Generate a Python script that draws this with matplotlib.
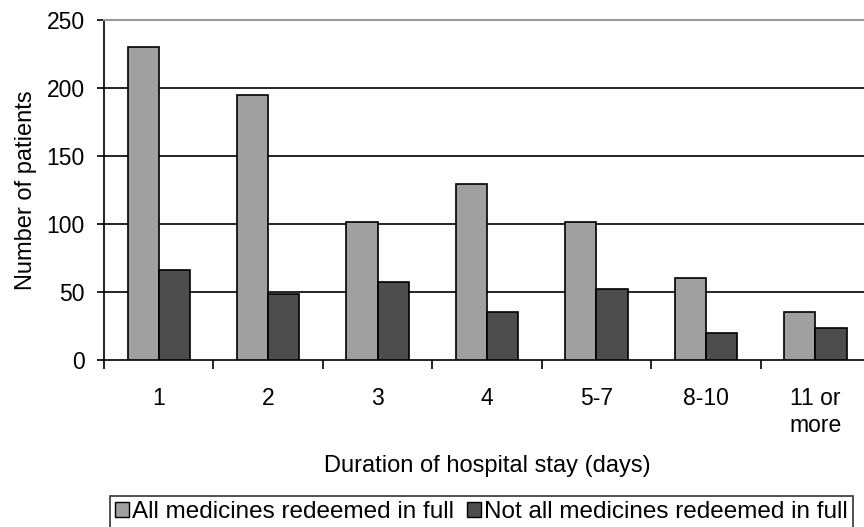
import numpy as np
import matplotlib
matplotlib.use("Agg")
import matplotlib.pyplot as plt
from matplotlib.patches import Patch

plt.rcParams['font.family'] = ['Liberation Sans', 'DejaVu Sans']

# Patients per length of stay
stay_labels = ["1", "2", "3", "4", "5-7", "8-10", "11 or\nmore"]
redeemed_full = [230, 195, 101, 129, 101, 60, 35]
not_redeemed_full = [66, 48, 57, 35, 52, 20, 23]
series_names = ["All medicines redeemed in full", "Not all medicines redeemed in full"]

LIGHT = "#a0a0a0"
DARK = "#4d4d4d"

fig = plt.figure(figsize=(8.64, 5.27), dpi=100)
# plot area runs a little past the right edge of the canvas
ax = fig.add_axes([0.1204, 0.3175, 0.8866, 0.6445])

x = np.arange(len(stay_labels))
w = 0.285
ax.bar(x - w / 2, redeemed_full, w, color=LIGHT, edgecolor="black", linewidth=1.2, zorder=3)
ax.bar(x + w / 2, not_redeemed_full, w, color=DARK, edgecolor="black", linewidth=1.2, zorder=3)

ax.set_xlim(-0.5, len(stay_labels) - 0.5)
ax.set_ylim(0, 250)
ax.set_yticks(np.arange(0, 251, 50))
for yv in range(50, 250, 50):
    ax.axhline(yv, color="black", linewidth=1.2, zorder=1)

# category separators as ticks, labels centred under each group
ax.set_xticks(np.arange(-0.5, len(stay_labels) - 0.5, 1.0))
ax.set_xticklabels([])
ax.set_xticks(x, minor=True)
ax.set_xticklabels(stay_labels, minor=True, fontsize=16.5)
ax.tick_params(axis="x", which="major", direction="out", length=6.5, width=1.2)
ax.tick_params(axis="x", which="minor", length=0, pad=20)
ax.tick_params(axis="y", direction="out", length=5, width=1.2, labelsize=16.5, pad=9)

ax.spines["right"].set_visible(False)
ax.spines["top"].set_color("#999999")
ax.spines["top"].set_linewidth(1.5)
ax.spines["left"].set_linewidth(1.2)
ax.spines["bottom"].set_linewidth(1.2)

ax.set_ylabel("Number of patients", fontsize=17)
ax.yaxis.set_label_coords(-0.087, 0.5)
ax.set_xlabel("Duration of hospital stay (days)", fontsize=17)
ax.xaxis.set_label_coords(0.5, -0.282)

handles = [Patch(facecolor=LIGHT, edgecolor="black", linewidth=1),
           Patch(facecolor=DARK, edgecolor="black", linewidth=1)]
leg = fig.legend(handles, series_names, loc="upper left", bbox_to_anchor=(0.1273, 0.0588),
                 ncol=2, fontsize=17.5, frameon=True, fancybox=False, edgecolor="black",
                 handlelength=0.6, handleheight=0.6, handletextpad=0.12, columnspacing=0.5,
                 borderpad=0.2, borderaxespad=0)
leg.get_frame().set_linewidth(1.2)

fig.savefig("out.png", dpi=100)
